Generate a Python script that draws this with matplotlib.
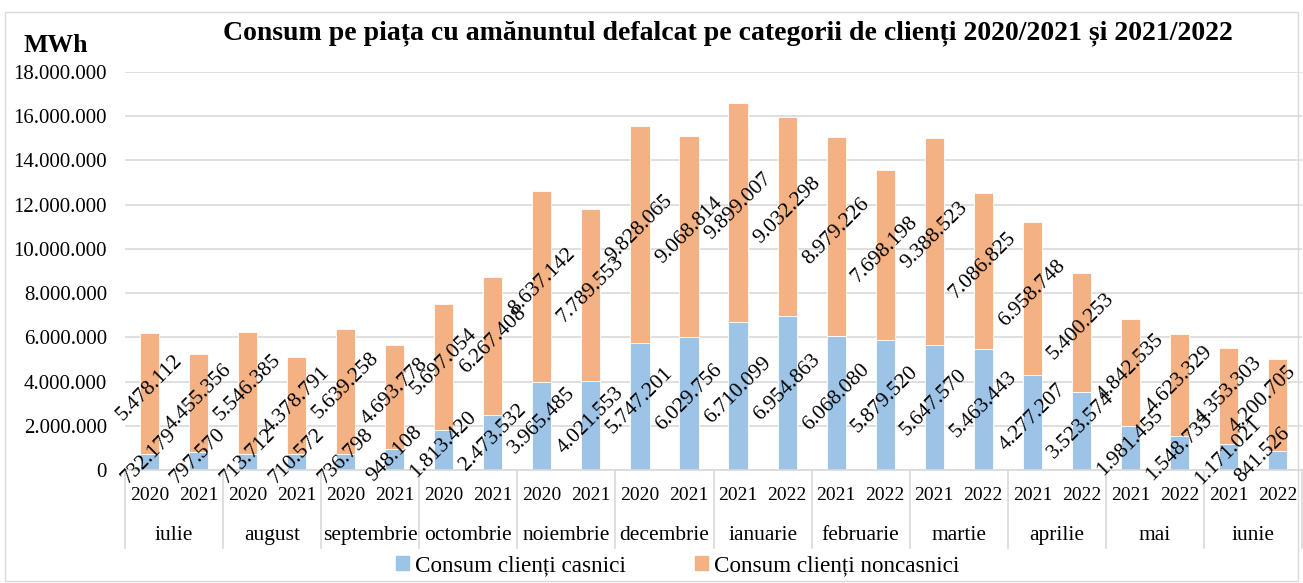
import matplotlib.pyplot as plt
from matplotlib.patches import Patch, Rectangle
import matplotlib.transforms as mtransforms

plt.rcParams["font.family"] = ["Liberation Serif", "DejaVu Serif"]

months = ["iulie", "august", "septembrie", "octombrie", "noiembrie", "decembrie",
          "ianuarie", "februarie", "martie", "aprilie", "mai", "iunie"]
years = [("2020", "2021")] * 6 + [("2021", "2022")] * 6

casnici = [732179, 797570, 713712, 710572, 736798, 948108,
           1813420, 2473532, 3965485, 4021553, 5747201, 6029756,
           6710099, 6954863, 6068080, 5879520, 5647570, 5463443,
           4277207, 3523574, 1981455, 1548733, 1171021, 841526]
noncasnici = [5478112, 4455356, 5546385, 4378791, 5639258, 4693778,
              5697054, 6267408, 8637142, 7789553, 9828065, 9068814,
              9899007, 9032298, 8979226, 7698198, 9388523, 7086825,
              6958748, 5400253, 4842535, 4623329, 4353303, 4200705]

c_blue = "#9DC3E6"
c_orange = "#F4B183"


def fmt(v):
    return f"{int(v):,}".replace(",", ".")


fig = plt.figure(figsize=(13.03, 5.83), dpi=100)
fig.patches.append(Rectangle((0.004, 0.004), 0.992, 0.975, transform=fig.transFigure,
                             fill=False, edgecolor="#D9D9D9", linewidth=1))
ax = fig.add_axes([0.0959, 0.1938, 0.9034, 0.6827])

n = len(casnici)
x = list(range(n))
ax.bar(x, casnici, width=0.39, color=c_blue, edgecolor="white", linewidth=0.6, zorder=2)
ax.bar(x, noncasnici, width=0.39, bottom=casnici, color=c_orange,
       edgecolor="white", linewidth=0.6, zorder=2)

for i in x:
    # keep the last labels inside the plot area, as Excel does
    lx = min(i, n - 1.3)
    ax.text(lx, casnici[i] / 2 + 250000, fmt(casnici[i]), rotation=45, ha="center",
            va="center", rotation_mode="anchor", fontsize=15.5, zorder=3)
    ax.text(lx, casnici[i] + noncasnici[i] / 2 + 250000, fmt(noncasnici[i]), rotation=45,
            ha="center", va="center", rotation_mode="anchor", fontsize=15.5, zorder=3)

ax.set_xlim(-0.5, 23.5)
ax.set_ylim(0, 18000000)
ax.set_yticks(range(0, 18000001, 2000000))
ax.set_yticklabels([fmt(v) for v in range(0, 18000001, 2000000)], fontsize=15)
ax.yaxis.grid(True, color="#D9D9D9", linewidth=1.2, zorder=0)
ax.set_axisbelow(True)
for s in ["left", "right", "top"]:
    ax.spines[s].set_visible(False)
ax.spines["bottom"].set_color("#D9D9D9")
ax.spines["bottom"].set_linewidth(1.2)
ax.tick_params(axis="y", length=0, pad=13)
ax.set_xticks([])

trans = mtransforms.blended_transform_factory(ax.transData, ax.transAxes)
for g, m in enumerate(months):
    ax.text(2 * g, -0.063, years[g][0], transform=trans, ha="center", va="center", fontsize=14)
    ax.text(2 * g + 1, -0.063, years[g][1], transform=trans, ha="center", va="center", fontsize=14)
    ax.text(2 * g + 0.5, -0.165, m, transform=trans, ha="center", va="center", fontsize=15.5)
for b in range(13):
    ax.plot([2 * b - 0.5, 2 * b - 0.5], [0, -0.196], transform=trans, color="#D9D9D9",
            linewidth=1.2, clip_on=False)

fig.text(0.559, 0.943, "Consum pe piața cu amănuntul defalcat pe categorii de clienți 2020/2021 și 2021/2022",
         ha="center", va="center", fontsize=20, fontweight="bold")
fig.text(0.043, 0.922, "MWh", ha="center", va="center", fontsize=18.5, fontweight="bold")

handles = [Patch(color=c_blue, label="Consum clienți casnici"),
           Patch(color=c_orange, label="Consum clienți noncasnici")]
fig.legend(handles=handles, loc="center", bbox_to_anchor=(0.52, 0.03), ncol=2,
           frameon=False, fontsize=16.7, handlelength=0.55, handleheight=0.55,
           handletextpad=0.25, columnspacing=3.0)

fig.savefig("out.png", dpi=100)
